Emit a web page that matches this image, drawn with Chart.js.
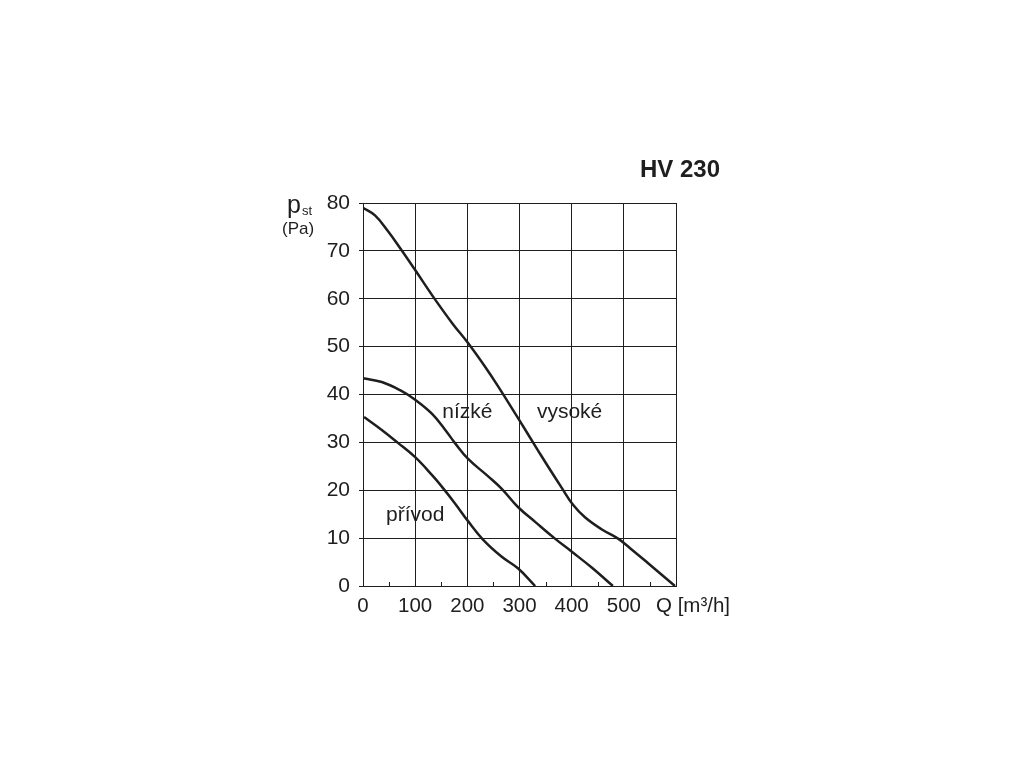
<!DOCTYPE html>
<html>
<head>
<meta charset="utf-8">
<title>HV 230</title>
<script src="https://cdn.jsdelivr.net/npm/chart.js@4/dist/chart.umd.min.js"></script>
<style>
  html, body { margin: 0; padding: 0; background: #fff; }
  #wrap { width: 1024px; height: 768px; }
</style>
</head>
<body>
<div id="wrap"><canvas id="hv" width="1024" height="768"></canvas></div>
<script>
// Q [m3/h] and p_st [Pa]
const vysokeQ = [0, 23, 48, 71, 100, 134, 171, 201, 234, 259, 297, 335, 355, 381, 403, 426, 458, 489, 512, 546, 598];
const vysokeP = [79, 77.4, 74.1, 70.6, 66.0, 60.5, 54.9, 50.8, 45.8, 41.7, 35.1, 28.4, 24.9, 20.5, 16.9, 14.3, 11.8, 9.9, 7.9, 4.8, 0];

const nizkeQ = [0, 36, 71, 100, 132, 157, 176, 201, 240, 266, 297, 330, 368, 401, 439, 479];
const nizkeP = [43.4, 42.6, 40.9, 38.9, 36.0, 32.7, 29.9, 26.6, 22.9, 20.3, 16.5, 13.4, 9.9, 7.1, 3.8, 0];

const privodQ = [2, 36, 67, 100, 132, 153, 176, 201, 230, 266, 297, 330];
const privodP = [35.3, 32.6, 29.9, 26.9, 23.2, 20.5, 17.3, 13.6, 9.7, 6.1, 3.7, 0];

const xTicks = [0, 100, 200, 300, 400, 500, 600];
const yTicks = [0, 10, 20, 30, 40, 50, 60, 70, 80];
const minorTicks = [50, 150, 250, 350, 450, 550];

const curveLabels = [
  { text: 'nízké', q: 200, p: 35 },
  { text: 'vysoké', q: 396, p: 35 },
  { text: 'přívod', q: 100, p: 13.6 }
];

const ink = '#1e1e1e';
const font = '"Liberation Sans", Arial, sans-serif';

function toPoints(qs, ps) {
  return qs.map((q, i) => ({ x: q, y: ps[i] }));
}

function curve(name, qs, ps) {
  return {
    label: name,
    data: toPoints(qs, ps),
    borderColor: ink,
    borderWidth: 2.5,
    pointRadius: 0,
    fill: false,
    tension: 0.4
  };
}

const textPlugin = {
  id: 'texts',
  afterDraw(chart) {
    const { ctx, scales: { x, y } } = chart;
    ctx.save();
    ctx.strokeStyle = ink;
    ctx.lineWidth = 1;
    ctx.beginPath();
    minorTicks.forEach(q => {
      const px = Math.round(x.getPixelForValue(q)) + 0.5;
      ctx.moveTo(px, y.bottom);
      ctx.lineTo(px, y.bottom - 4);
    });
    ctx.stroke();

    ctx.fillStyle = ink;
    ctx.textBaseline = 'alphabetic';
    ctx.font = '21px ' + font;
    ctx.textAlign = 'center';
    curveLabels.forEach(l => {
      ctx.fillText(l.text, x.getPixelForValue(l.q), y.getPixelForValue(l.p));
    });

    ctx.textAlign = 'left';
    ctx.font = '20.5px ' + font;
    ctx.fillText('Q [m³/h]', 656, 612);

    ctx.font = '25px ' + font;
    ctx.fillText('p', 287, 213);
    ctx.font = '13px ' + font;
    ctx.fillText('st', 302, 215);
    ctx.font = '17px ' + font;
    ctx.fillText('(Pa)', 282, 234);

    ctx.font = 'bold 24px ' + font;
    ctx.textAlign = 'right';
    ctx.fillText('HV 230', 720, 177);
    ctx.restore();
  }
};

new Chart(document.getElementById('hv').getContext('2d'), {
  type: 'line',
  data: {
    datasets: [
      curve('vysoké', vysokeQ, vysokeP),
      curve('nízké', nizkeQ, nizkeP),
      curve('přívod', privodQ, privodP)
    ]
  },
  options: {
    responsive: false,
    animation: false,
    layout: { padding: { left: 303, right: 348, top: 203, bottom: 142 } },
    plugins: {
      legend: { display: false },
      tooltip: { enabled: false }
    },
    scales: {
      x: {
        type: 'linear',
        min: 0,
        max: 600,
        afterFit: s => { s.height = 40; },
        afterBuildTicks: s => { s.ticks = xTicks.map(v => ({ value: v })); },
        grid: { color: ink, lineWidth: 1, drawTicks: false },
        border: { color: ink, width: 1 },
        ticks: {
          padding: 8,
          color: ink,
          autoSkip: false,
          maxRotation: 0,
          font: { family: font, size: 20.5 },
          callback: v => (v === 600 ? '' : v)
        }
      },
      y: {
        type: 'linear',
        min: 0,
        max: 80,
        afterFit: s => { s.width = 60; },
        afterBuildTicks: s => { s.ticks = yTicks.map(v => ({ value: v })); },
        grid: { color: ink, lineWidth: 1, tickLength: 4 },
        border: { color: ink, width: 1 },
        ticks: {
          padding: 9,
          color: ink,
          font: { family: font, size: 21 }
        }
      }
    }
  },
  plugins: [textPlugin]
});
</script>
</body>
</html>
